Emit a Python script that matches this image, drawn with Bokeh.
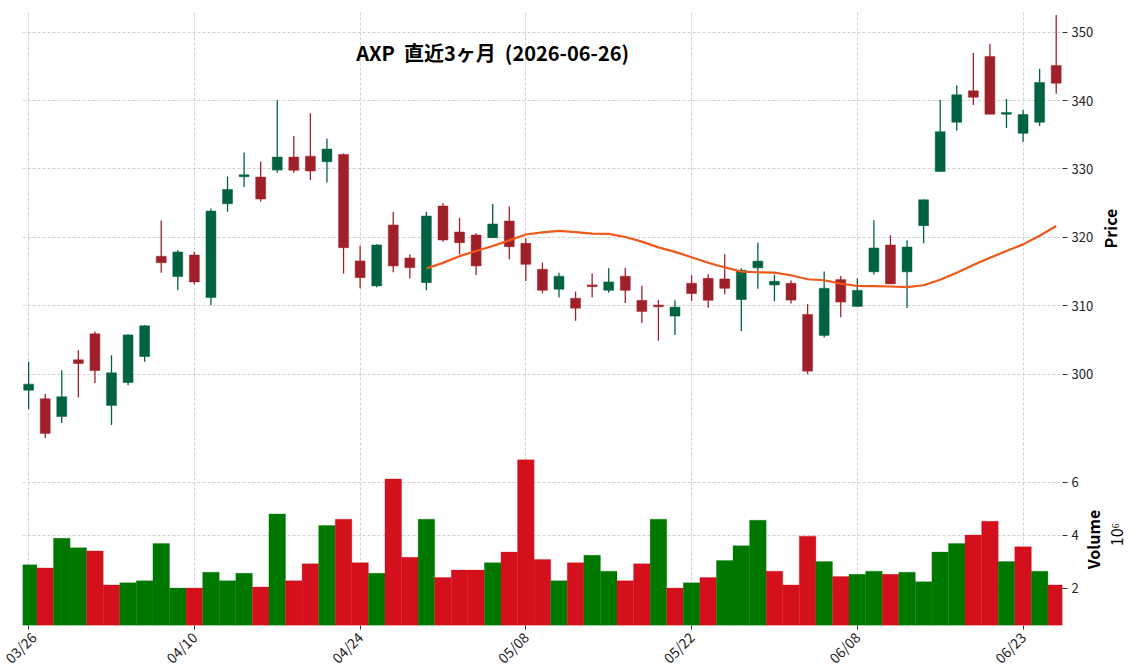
import math
from bokeh.plotting import figure
from bokeh.models import ColumnDataSource, FixedTicker, Label, Range1d
from bokeh.layouts import column, row
from bokeh.embed import file_html
from bokeh.resources import INLINE

# ---------------- data ----------------
dates = ["03/26", "03/27", "03/30", "03/31", "04/01", "04/02", "04/06", "04/07", "04/08", "04/09",
         "04/10", "04/13", "04/14", "04/15", "04/16", "04/17", "04/20", "04/21", "04/22", "04/23",
         "04/24", "04/27", "04/28", "04/29", "04/30", "05/01", "05/04", "05/05", "05/06", "05/07",
         "05/08", "05/11", "05/12", "05/13", "05/14", "05/15", "05/18", "05/19", "05/20", "05/21",
         "05/22", "05/26", "05/27", "05/28", "05/29", "06/01", "06/02", "06/03", "06/04", "06/05",
         "06/08", "06/09", "06/10", "06/11", "06/12", "06/15", "06/16", "06/17", "06/18", "06/22",
         "06/23", "06/24", "06/25"]

opens = [297.66, 296.40, 293.82, 302.09, 305.89, 295.43, 298.78, 302.58, 317.23, 314.26,
         317.42, 311.19, 324.91, 328.86, 328.81, 329.83, 331.73, 331.87, 331.05, 332.12,
         316.55, 312.90, 321.80, 316.98, 313.38, 324.57, 320.78, 320.34, 319.95, 322.38,
         319.12, 315.33, 312.41, 311.09, 313.04, 312.26, 314.31, 310.78, 310.10, 308.49,
         313.28, 314.01, 313.92, 310.90, 315.54, 313.04, 313.28, 308.73, 305.66, 313.82,
         309.90, 314.96, 318.88, 314.96, 321.71, 329.63, 336.82, 341.42, 346.45, 338.00,
         335.20, 336.82, 345.13]
highs = [301.80, 297.08, 300.58, 303.50, 306.23, 302.77, 305.84, 307.20, 322.48, 318.10,
         317.90, 324.23, 328.90, 332.40, 331.10, 340.05, 334.80, 338.15, 334.45, 332.25,
         318.78, 319.00, 323.70, 317.52, 323.75, 325.00, 322.87, 320.58, 324.87, 324.50,
         319.85, 316.30, 314.84, 312.07, 314.70, 315.47, 315.57, 312.93, 310.88, 310.80,
         314.45, 314.60, 317.52, 315.47, 319.22, 314.56, 313.68, 310.24, 315.00, 314.36,
         313.97, 322.49, 320.29, 319.56, 325.57, 340.10, 342.25, 346.94, 348.30, 340.25,
         338.63, 344.65, 352.52]
lows = [294.90, 290.66, 292.85, 296.60, 298.69, 292.55, 298.39, 301.80, 314.84, 312.26,
        313.14, 310.07, 323.75, 327.35, 325.25, 329.44, 329.44, 328.40, 328.00, 314.70,
        312.55, 312.70, 314.90, 314.00, 312.26, 319.37, 317.52, 314.50, 319.95, 316.80,
        313.60, 311.80, 311.20, 307.80, 311.20, 311.90, 310.41, 307.46, 304.90, 305.74,
        310.70, 309.70, 311.68, 306.30, 312.50, 310.64, 310.34, 300.00, 305.37, 308.30,
        309.90, 314.57, 313.20, 309.68, 319.12, 329.63, 335.60, 339.36, 338.00, 335.99,
        333.94, 336.28, 340.98]
closes = [298.54, 291.34, 296.69, 301.56, 300.54, 300.19, 305.74, 307.06, 316.30, 317.86,
          313.48, 323.84, 327.01, 329.15, 325.60, 331.73, 329.80, 329.70, 332.90, 318.49,
          314.11, 318.88, 315.82, 315.57, 323.11, 319.61, 319.22, 315.82, 321.95, 318.64,
          316.06, 312.26, 314.31, 309.64, 312.80, 313.48, 312.26, 309.17, 309.85, 309.80,
          311.78, 310.80, 312.55, 315.18, 316.52, 313.58, 310.83, 300.44, 312.55, 310.54,
          312.25, 318.44, 313.20, 318.58, 325.48, 335.45, 340.83, 340.49, 338.00, 338.24,
          337.95, 342.64, 342.54]
volumes = [2.89, 2.77, 3.89, 3.53, 3.41, 2.13, 2.21, 2.29, 3.69, 2.01,
           2.01, 2.61, 2.29, 2.57, 2.05, 4.81, 2.29, 2.93, 4.37, 4.61,
           2.97, 2.57, 6.13, 3.17, 4.61, 2.41, 2.69, 2.69, 2.97, 3.37,
           6.85, 3.09, 2.29, 2.97, 3.25, 2.65, 2.29, 2.93, 4.61, 2.01,
           2.21, 2.41, 3.05, 3.61, 4.57, 2.65, 2.13, 3.97, 3.01, 2.45,
           2.53, 2.65, 2.53, 2.61, 2.25, 3.37, 3.69, 4.01, 4.53, 3.01,
           3.57, 2.65, 2.13]  # x 10^6
ma_start = 24
ma25 = [315.44, 316.27, 317.25, 318.00, 318.73, 319.56, 320.42, 320.72, 320.95, 320.76,
        320.54, 320.50, 320.05, 319.37, 318.53, 317.88, 317.09, 316.28, 315.60, 315.00,
        314.90, 314.85, 314.46, 313.87, 313.73, 313.24, 312.89, 312.87, 312.81, 312.71,
        313.00, 313.79, 314.82, 315.94, 317.02, 318.00, 318.97, 320.24, 321.66]
price_ticks = [290, 300, 310, 320, 330, 340, 350]
volume_ticks = [2, 4, 6]
date_tick_idx = [0, 10, 20, 30, 40, 50, 60]
title = "AXP \u00a0直近3ヶ月 \u00a0(2026-06-26)"

# ---------------- styles ----------------
FONT = "Noto Sans CJK JP"
UP_C, DN_C = "#006340", "#a0202a"
VUP_C, VDN_C = "#007800", "#d3101c"
MA_C = "#f0581a"
GRID_C = "#c4c4c4"

n = len(dates)
idx = list(range(n))
is_up = [c >= o for o, c in zip(opens, closes)]
src = ColumnDataSource(dict(
    x=idx,
    top=[max(o, c) for o, c in zip(opens, closes)],
    bottom=[min(o, c) for o, c in zip(opens, closes)],
    high=highs, low=lows,
    color=[UP_C if u else DN_C for u in is_up],
))
vcol = [VUP_C] + [VUP_C if closes[i] >= closes[i - 1] else VDN_C for i in range(1, n)]
vsrc = ColumnDataSource(dict(x=idx, v=volumes, color=vcol))

xr = Range1d(-0.37, 62.38)


def style_axes(p):
    p.outline_line_color = None
    p.background_fill_color = "white"
    p.border_fill_color = "white"
    for ax in p.yaxis:
        ax.axis_line_color = None
        ax.major_tick_line_color = "#333333"
        ax.major_tick_out = 5
        ax.major_tick_in = 0
        ax.minor_tick_line_color = None
        ax.major_label_text_font = FONT
        ax.major_label_text_font_size = "13px"
        ax.major_label_text_color = "#222222"
        ax.major_label_standoff = 4
    p.xgrid.grid_line_color = GRID_C
    p.ygrid.grid_line_color = GRID_C
    p.xgrid.grid_line_dash = "3 2"
    p.ygrid.grid_line_dash = "3 2"
    p.xgrid.grid_line_width = 0.8
    p.ygrid.grid_line_width = 0.8


def label_panel(w, h, texts):
    """Narrow blank panel to the right that carries the rotated axis titles.
    Coordinates are pixels from the panel's top-left corner."""
    q = figure(frame_width=w, frame_height=h, x_range=Range1d(0, w), y_range=Range1d(h, 0),
               toolbar_location=None, output_backend="svg", x_axis_location=None,
               y_axis_location=None, min_border_left=0, min_border_right=0,
               min_border_top=0, min_border_bottom=0)
    q.outline_line_color = None
    q.grid.visible = False
    for (tx, x, y, size, style) in texts:
        q.add_layout(Label(x=x, y=y, text=tx, angle=math.pi / 2, text_font=FONT,
                           text_font_size=size, text_font_style=style, text_align="center",
                           text_baseline="middle", text_color="black"))
    return q


# ---------------- price panel ----------------
p1 = figure(frame_width=1040, frame_height=428, x_range=xr, y_range=Range1d(290.3, 352.87),
            y_axis_location="right", toolbar_location=None, output_backend="svg",
            min_border_left=22, min_border_right=35, min_border_top=12, min_border_bottom=0)
p1.xaxis.visible = False
p1.xaxis.ticker = FixedTicker(ticks=date_tick_idx)
p1.yaxis.ticker = FixedTicker(ticks=price_ticks)
style_axes(p1)

p1.segment(x0="x", x1="x", y0="low", y1="high", color="color", line_width=1.3, source=src)
p1.vbar(x="x", top="top", bottom="bottom", width=0.6, fill_color="color",
        line_color="color", line_width=0.5, source=src)
p1.line(x=list(range(ma_start, ma_start + len(ma25))), y=ma25, line_color=MA_C, line_width=2.2)

p1.add_layout(Label(x=28.0, y=347.0, text=title, text_font=FONT, text_font_size="20px",
                    text_font_style="bold", text_align="center", text_baseline="middle",
                    text_color="black"))

lab1 = label_panel(39, 440, [("Price", 12.0, 216, "16px", "bold")])

# ---------------- volume panel ----------------
p2 = figure(frame_width=1040, frame_height=184, x_range=xr, y_range=Range1d(0.6, 7.54),
            y_axis_location="right", toolbar_location=None, output_backend="svg",
            min_border_left=22, min_border_right=18, min_border_top=1, min_border_bottom=45)
p2.vbar(x="x", top="v", bottom=0, width=1.0, fill_color="color", line_color="color",
        line_width=0.3, source=vsrc)
p2.xaxis.ticker = FixedTicker(ticks=date_tick_idx)
p2.xaxis.major_label_overrides = {i: dates[i] for i in date_tick_idx}
p2.xaxis.major_label_orientation = math.pi / 4
p2.xaxis.axis_line_color = None
p2.xaxis.major_tick_line_color = "#333333"
p2.xaxis.major_tick_out = 4
p2.xaxis.major_tick_in = 0
p2.xaxis.minor_tick_line_color = None
p2.xaxis.major_label_text_font = FONT
p2.xaxis.major_label_text_font_size = "14px"
p2.xaxis.major_label_text_color = "#222222"
p2.yaxis.ticker = FixedTicker(ticks=volume_ticks)
style_axes(p2)

lab2 = label_panel(56, 230, [("Volume", 11.0, 98, "16px", "bold"),
                             ("10⁶", 34.5, 93, "16px", "normal")])

layout = column(row(p1, lab1, spacing=0), row(p2, lab2, spacing=0), spacing=0)
open("out.html", "w").write(file_html(layout, INLINE))
